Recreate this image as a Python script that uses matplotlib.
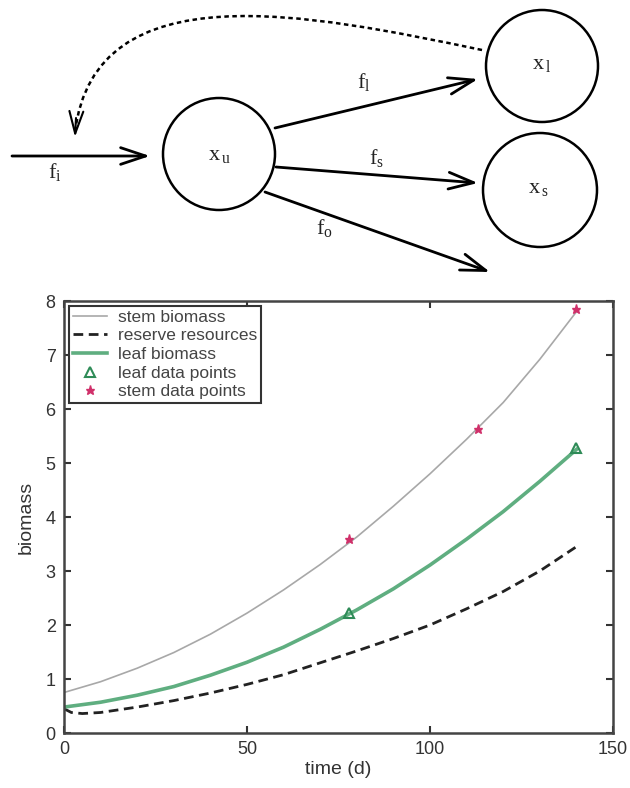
import matplotlib
matplotlib.use("Agg")
import matplotlib.pyplot as plt
from matplotlib.patches import Circle, PathPatch
from matplotlib.path import Path

# model curves
t_model = [0, 10, 20, 30, 40, 50, 60, 70, 80, 90, 100, 110, 120, 130, 140]
stem_model = [0.75, 0.95, 1.20, 1.49, 1.83, 2.22, 2.65, 3.12, 3.63, 4.20, 4.80, 5.44, 6.12, 6.92, 7.80]
leaf_model = [0.48, 0.57, 0.70, 0.86, 1.07, 1.31, 1.59, 1.92, 2.28, 2.67, 3.11, 3.59, 4.10, 4.66, 5.25]

t_reserve = [0, 2, 5, 10, 20, 30, 40, 50, 60, 70, 80, 90, 100, 110, 120, 130, 140]
reserve = [0.45, 0.38, 0.36, 0.38, 0.48, 0.60, 0.74, 0.90, 1.08, 1.30, 1.52, 1.75, 2.00, 2.30, 2.62, 3.00, 3.45]

# measured points
t_leaf_pts = [78, 140]
leaf_pts = [2.22, 5.28]
t_stem_pts = [78, 113, 140]
stem_pts = [3.60, 5.63, 7.85]

plt.rcParams['mathtext.fontset'] = 'custom'
plt.rcParams['mathtext.rm'] = 'Liberation Serif'
plt.rcParams['mathtext.it'] = 'Liberation Serif:italic'

fig = plt.figure(figsize=(6.3, 7.88), dpi=100)

# ---- compartment diagram (pixel coords) ----
ax0 = fig.add_axes([0, 1 - 285 / 788, 1, 285 / 788])
ax0.set_xlim(0, 630)
ax0.set_ylim(285, 0)
ax0.axis("off")

for cx, cy, r in [(219, 154, 56), (542, 66, 56), (540, 190, 57)]:
    ax0.add_patch(Circle((cx, cy), r, fill=False, lw=1.8, ec="black"))

serif = dict(fontsize=16, ha="center", va="center", color="#222222")
ax0.text(219, 155, r"$\mathrm{x}_{\,\mathrm{u}}$", **serif)
ax0.text(542, 64, r"$\mathrm{x}_{\,\mathrm{l}}$", **serif)
ax0.text(538, 188, r"$\mathrm{x}_{\,\mathrm{s}}$", **serif)
ax0.text(55, 172, r"$\mathrm{f}_{\mathrm{i}}$", **serif)
ax0.text(364, 82, r"$\mathrm{f}_{\mathrm{l}}$", **serif)
ax0.text(376, 158, r"$\mathrm{f}_{\mathrm{s}}$", **serif)
ax0.text(324, 228, r"$\mathrm{f}_{\mathrm{o}}$", **serif)

arrow = dict(arrowstyle="->,head_length=0.9,head_width=0.3", lw=2,
             color="black", shrinkA=0, shrinkB=0, mutation_scale=20)
for start, end in [((12, 156), (150, 156)),
                   ((275, 128), (478, 79)),
                   ((276, 167), (478, 183)),
                   ((265, 192), (490, 272))]:
    ax0.annotate("", xy=end, xytext=start, arrowprops=arrow)

# dashed feedback from x_l back to the input
fb = Path([(482, 50), (310, 14), (95, -30), (75, 132)],
          [Path.MOVETO, Path.CURVE4, Path.CURVE4, Path.CURVE4])
ax0.add_patch(PathPatch(fb, fill=False, lw=1.8, ls=(0, (1.8, 1.4)), ec="black"))
ax0.annotate("", xy=(75, 137), xytext=(76, 118),
             arrowprops=dict(arrowstyle="->,head_length=0.8,head_width=0.25",
                             lw=1.5, color="black", shrinkA=0, shrinkB=0,
                             mutation_scale=20))

# ---- biomass plot ----
ax = fig.add_axes([64 / 630, 1 - 733 / 788, (613 - 64) / 630, (733 - 301) / 788])
sans = "Liberation Sans"

ax.plot(t_model, stem_model, color="#a8a8a8", lw=1.2, label="stem biomass")
ax.plot(t_reserve, reserve, color="#222222", lw=2, ls=(0, (3.5, 2)), label="reserve resources")
ax.plot(t_model, leaf_model, color="#5fae80", lw=2.6, label="leaf biomass")
ax.plot(t_leaf_pts, leaf_pts, ls="none", marker="^", ms=7, mfc="none",
        mec="#2e8b57", mew=1.5, label="leaf data points")
ax.plot(t_stem_pts, stem_pts, ls="none", marker="*", ms=6.5,
        color="#d0306a", label="stem data points")

ax.set_xlim(0, 150)
ax.set_ylim(0, 8)
ax.set_xticks([0, 50, 100, 150])
ax.set_yticks(range(0, 9))
ax.tick_params(direction="in", length=5, width=1.5, top=True, right=True,
               labelsize=13, colors="#333333", pad=6)
for lab in ax.get_xticklabels() + ax.get_yticklabels():
    lab.set_fontfamily(sans)
for sp in ax.spines.values():
    sp.set_linewidth(1.8)
    sp.set_color("#444444")

ax.set_xlabel("time (d)", fontsize=14, fontfamily=sans, color="#333333", labelpad=2)
ax.set_ylabel("biomass", fontsize=14, fontfamily=sans, color="#333333", labelpad=8)

leg = ax.legend(loc="upper left", prop={"family": sans, "size": 12.5},
                fancybox=False, framealpha=1, edgecolor="#333333",
                borderaxespad=0.3, handlelength=2.0, labelspacing=0.2,
                borderpad=0.2, handletextpad=0.6)
leg.get_frame().set_linewidth(1.5)
for txt in leg.get_texts():
    txt.set_color("#444444")

fig.savefig("out.png", dpi=100)
